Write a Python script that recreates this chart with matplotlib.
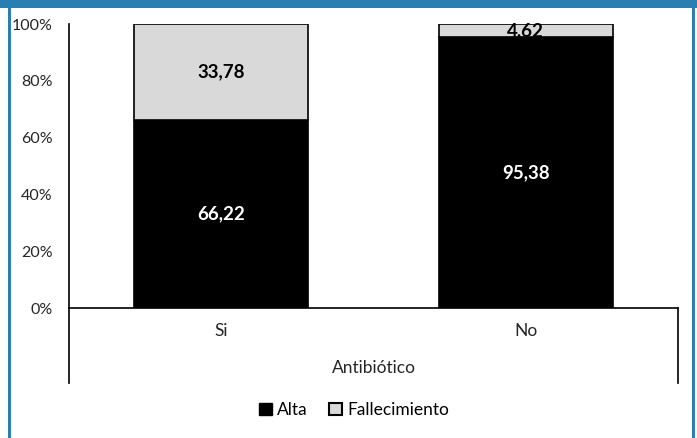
import matplotlib
matplotlib.use("Agg")
import matplotlib.pyplot as plt
from matplotlib.patches import Rectangle
from matplotlib.lines import Line2D

plt.rcParams['font.family'] = ['Lato', 'DejaVu Sans']

categories = ["Si", "No"]
alta = [66.22, 95.38]
fallecimiento = [33.78, 4.62]
alta_labels = ["66,22", "95,38"]
fall_labels = ["33,78", "4,62"]
yticks = [0, 20, 40, 60, 80, 100]
ytick_labels = ["0%", "20%", "40%", "60%", "80%", "100%"]

fig = plt.figure(figsize=(6.97, 4.38), dpi=100)
ax = fig.add_axes([69/697, 130/438, (678-69)/697, (414-130)/438])

x = range(len(categories))
width = 174/304.5
ax.bar(x, alta, width=width, color="black", edgecolor="black", linewidth=1.2, zorder=2)
ax.bar(x, fallecimiento, bottom=alta, width=width, color="#d9d9d9",
       edgecolor="black", linewidth=1.2, zorder=2)

for i in x:
    ax.text(i, alta[i] / 2, alta_labels[i], ha="center", va="center",
            color="white", fontsize=13.5, fontweight="bold")
    ax.text(i, alta[i] + fallecimiento[i] / 2, fall_labels[i], ha="center",
            va="center", color="black", fontsize=13.5, fontweight="bold")

ax.set_xlim(-0.5, 1.5)
ax.set_ylim(0, 100)
ax.set_yticks(yticks)
ax.set_yticklabels(ytick_labels, fontsize=11.5, color="#262626")
ax.set_xticks(list(x))
ax.set_xticklabels(categories, fontsize=12.5, color="#262626")
ax.tick_params(axis="both", length=0)
ax.tick_params(axis="y", pad=12)
ax.tick_params(axis="x", pad=11)
for s in ["top", "right"]:
    ax.spines[s].set_visible(False)
ax.spines["left"].set_linewidth(1.2)
ax.spines["bottom"].set_linewidth(1.2)

# grouping lines of the category axis
for xp in (69/697, 678/697):
    fig.add_artist(Line2D([xp, xp], [130/438, 55/438], color="black",
                          linewidth=1.2, transform=fig.transFigure))

fig.text((69 + 678) / 2 / 697, 1 - 368/438, "Antibiótico", ha="center",
         va="center", fontsize=12.5, color="#262626")

handles = [Rectangle((0, 0), 1, 1, facecolor="black", edgecolor="black"),
           Rectangle((0, 0), 1, 1, facecolor="#d9d9d9", edgecolor="black", linewidth=1.5)]
fig.legend(handles, ["Alta", "Fallecimiento"], loc="center",
           bbox_to_anchor=(354/697, 1 - 410/438), ncol=2, frameon=False,
           fontsize=12.5, handlelength=0.75, handleheight=0.75,
           handletextpad=0.3, columnspacing=1.2)

# frame border
blue = "#2A7FB2"
fig.add_artist(Rectangle((0, 1 - 8/438), 1, 8/438, facecolor=blue,
                         edgecolor="none", transform=fig.transFigure))
fig.add_artist(Rectangle((8/697, 0), 3/697, 1, facecolor=blue,
                         edgecolor="none", transform=fig.transFigure))
fig.add_artist(Rectangle((692/697, 0), 3/697, 1, facecolor=blue,
                         edgecolor="none", transform=fig.transFigure))

fig.savefig("out.png", dpi=100)
